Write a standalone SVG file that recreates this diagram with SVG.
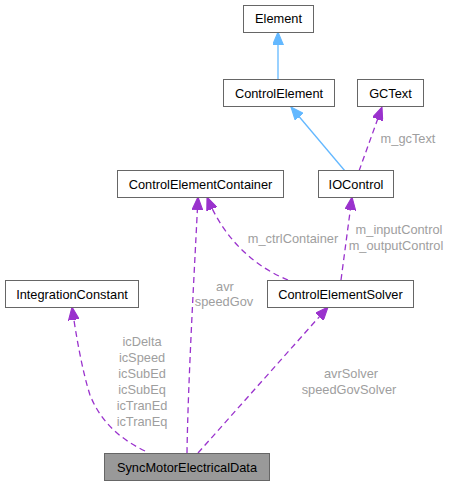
<svg xmlns="http://www.w3.org/2000/svg" width="450" height="485" viewBox="0 0 450 485">
<style>
.box{fill:#fff;stroke:#666;stroke-width:1}
.main{fill:#999;stroke:#666;stroke-width:1}
.t{font-family:"Liberation Sans",Arial,sans-serif;font-size:12.8px;fill:#000;text-anchor:middle}
.lbl{font-family:"Liberation Sans",Arial,sans-serif;font-size:12.8px;fill:#9e9e9e;text-anchor:middle}
.inh{fill:none;stroke:#63b8ff;stroke-width:1.3}
.use{fill:none;stroke:#9a32cd;stroke-width:1.3;stroke-dasharray:6,4}
</style>
<defs>
<marker id="ab" viewBox="0 0 12 10" refX="12" refY="5" markerWidth="13" markerHeight="11" markerUnits="userSpaceOnUse" orient="auto"><path d="M0,0 L12,5 L0,10 z" fill="#63b8ff" stroke="#63b8ff"/></marker>
<marker id="ap" viewBox="0 0 12 10" refX="12" refY="5" markerWidth="13" markerHeight="11" markerUnits="userSpaceOnUse" orient="auto"><path d="M0,0 L12,5 L0,10 z" fill="#9a32cd" stroke="#9a32cd"/></marker>
</defs>
<g id="connectors">
<path class="inh" d="M278,79 L278,32" marker-end="url(#ab)"/>
<path class="inh" d="M345,171 L291,107" marker-end="url(#ab)"/>
<path class="use" d="M359,171 L382,107" marker-end="url(#ap)"/>
<path class="use" d="M288,280 C258,268 225,242 207,197" marker-end="url(#ap)"/>
<path class="use" d="M341,280 L352,197" marker-end="url(#ap)"/>
<path class="use" d="M187,453 C188,380 195,260 198,197" marker-end="url(#ap)"/>
<path class="use" d="M145,451 C118,438 100,420 90,395 C82,370 76,335 72,307" marker-end="url(#ap)"/>
<path class="use" d="M198,453 L328,307" marker-end="url(#ap)"/>
<text class="lbl" x="408" y="143">m_gcText</text>
<text class="lbl" x="293" y="243">m_ctrlContainer</text>
<text class="lbl" x="399" y="234">m_inputControl</text>
<text class="lbl" x="396" y="250">m_outputControl</text>
<text class="lbl" x="225" y="291">avr</text>
<text class="lbl" x="224" y="306">speedGov</text>
<text class="lbl" x="142" y="346">icDelta</text>
<text class="lbl" x="142" y="362">icSpeed</text>
<text class="lbl" x="142" y="378">icSubEd</text>
<text class="lbl" x="142" y="394">icSubEq</text>
<text class="lbl" x="142" y="410">icTranEd</text>
<text class="lbl" x="142" y="426">icTranEq</text>
<text class="lbl" x="351" y="378">avrSolver</text>
<text class="lbl" x="349" y="394">speedGovSolver</text>
</g>
<g id="Element"><rect class="box" x="243.5" y="5.5" width="70" height="27"/><text class="t" x="278.5" y="23">Element</text></g>
<g id="ControlElement"><rect class="box" x="223.5" y="79.5" width="111" height="27"/><text class="t" x="279" y="97.5">ControlElement</text></g>
<g id="GCText"><rect class="box" x="357.5" y="79.5" width="66" height="27"/><text class="t" x="390.5" y="97.5">GCText</text></g>
<g id="ControlElementContainer"><rect class="box" x="117.5" y="170.5" width="166" height="27"/><text class="t" x="200.5" y="188.5">ControlElementContainer</text></g>
<g id="IOControl"><rect class="box" x="318.5" y="170.5" width="75" height="27"/><text class="t" x="356" y="188.5">IOControl</text></g>
<g id="IntegrationConstant"><rect class="box" x="5.5" y="280.5" width="133" height="27"/><text class="t" x="72" y="298.5">IntegrationConstant</text></g>
<g id="ControlElementSolver"><rect class="box" x="267.5" y="280.5" width="146" height="27"/><text class="t" x="340.5" y="298.5">ControlElementSolver</text></g>
<g id="SyncMotorElectricalData"><rect class="main" x="104.5" y="453.5" width="165" height="27"/><text class="t" x="187" y="471.5">SyncMotorElectricalData</text></g>
</svg>
